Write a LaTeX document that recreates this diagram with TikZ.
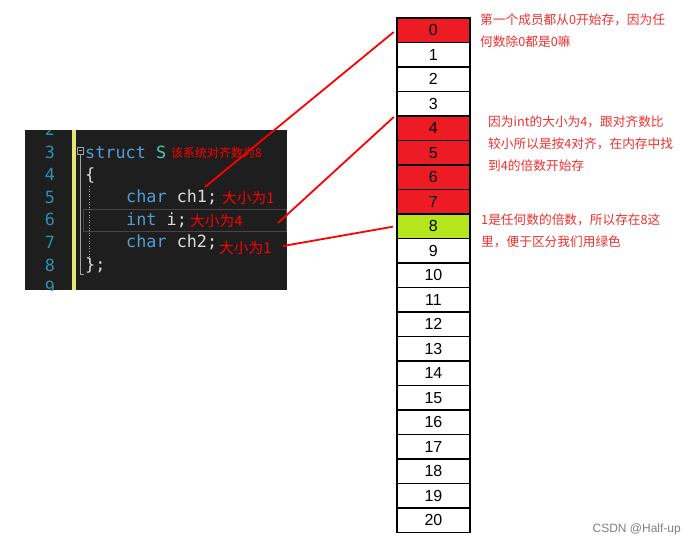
\documentclass[tikz,border=0pt]{standalone}
\usepackage{fontspec}
\setmainfont{Liberation Sans}
\newfontfamily\cjk{Noto Sans CJK SC}
\newfontfamily\codefont{DejaVu Sans Mono}
\usetikzlibrary{positioning}
\definecolor{memred}{HTML}{ED1C24}
\definecolor{memgreen}{HTML}{B5E61D}
\definecolor{notered}{HTML}{F0302F}
\definecolor{vsback}{HTML}{1E1E1E}
\definecolor{vsnum}{HTML}{2B91AF}
\definecolor{vskey}{HTML}{569CD6}
\definecolor{vstype}{HTML}{4EC9B0}
\definecolor{vstext}{HTML}{DCDCDC}
\definecolor{vsbar}{HTML}{E6E678}
\definecolor{vsline}{HTML}{464646}
\definecolor{vsfold}{HTML}{A5A5A5}
\tikzstyle{cell}=[rectangle,draw=black,line width=1.8pt,minimum width=73pt,minimum height=24.5pt,inner sep=0pt,anchor=north west,font=\fontsize{16}{16}\selectfont]
\tikzstyle{lineno}=[text=vsnum,font=\codefont\fontsize{16.8}{16.8}\selectfont,inner sep=0pt]
\tikzstyle{code}=[anchor=west,text=vstext,font=\codefont\fontsize{16.8}{16.8}\selectfont,inner sep=0pt]
\tikzstyle{sizelabel}=[anchor=west,text=red,font=\cjk\fontsize{14.7}{14.7}\selectfont,inner sep=0pt]
\tikzstyle{note}=[anchor=north west,align=left,text=notered,font=\cjk\fontsize{12.7}{22}\selectfont,inner sep=0pt]
\tikzstyle{pointer}=[draw=red,line width=1.8pt,shorten >=3pt]

\begin{document}
\begin{tikzpicture}[x=1pt,y=-1pt]

  \useasboundingbox[fill=white] (0,0) rectangle (697,547);

  \def\memx{396};
  \def\memy{17};
  \def\cellh{24.5};

  % memory cells
  \foreach \i/\col in {0/memred,1/white,2/white,3/white,4/memred,5/memred,6/memred,7/memred,8/memgreen,9/white,10/white,11/white,12/white,13/white,14/white,15/white,16/white,17/white,18/white,19/white,20/white}
    \node[cell,fill=\col] (c\i) at (\memx, \memy+\i*\cellh) {\i};

  % code window
  \node[fill=vsback,minimum width=262pt,minimum height=160pt,inner sep=0pt,anchor=north west] (panel) at (25,130) {};
  \begin{scope}
    \clip (panel.north west) rectangle (panel.south east);
    \foreach \n in {2,...,9}
      \node[lineno] (n\n) at (50, 152+\n*22.6-3*22.6) {\n};
  \end{scope}
  \fill[vsbar] (72,130) rectangle (75.5,290);
  \draw[vsline,line width=1pt] (83,209.5) rectangle (286.5,231.5);
  \draw[vsfold,line width=0.6pt] (77,147) rectangle (83,154);
  \draw[vsfold,line width=0.6pt] (78.5,150.5) -- (81.5,150.5);
  \draw[vsfold,line width=0.6pt] (80,154) -- (80,274) -- (84,274);
  \draw[vsfold,dotted,line width=0.6pt] (89,186) -- (89,262);

  \node[code] (l3) at (85,152) {\textcolor{vskey}{struct} \textcolor{vstype}{S}};
  \node[code] (l4) at (85,175) {\{};
  \node[code] (l5) at (126,197) {\textcolor{vskey}{char} ch1;};
  \node[code] (l6) at (126,220) {\textcolor{vskey}{int} i;};
  \node[code] (l7) at (126,242) {\textcolor{vskey}{char} ch2;};
  \node[code] (l8) at (85,265) {\};};

  \node[sizelabel,font=\cjk\fontsize{12}{12}\selectfont] (align8) at (171,153) {该系统对齐数为8};
  \node[sizelabel] (sz1) at (222,198) {大小为1};
  \node[sizelabel] (sz2) at (190,221) {大小为4};
  \node[sizelabel] (sz3) at (219,248) {大小为1};

  % pointers into memory
  \coordinate (p1) at (205,187);
  \coordinate (p2) at (278,223);
  \coordinate (p3) at (283,246);
  \path[pointer] (p1) -- (c0.west);
  \path[pointer] (p2) -- (c4.north west);
  \path[pointer] (p3) -- (c8.west);

  % notes
  \node[note] (note0) at (480,14) {第一个成员都从0开始存，因为任\\何数除0都是0嘛};
  \node[note] (note4) at (488,116) {因为int的大小为4，跟对齐数比\\较小所以是按4对齐，在内存中找\\到4的倍数开始存};
  \node[note] (note8) at (481,214) {1是任何数的倍数，所以存在8这\\里，便于区分我们用绿色};

  \node[text=gray,anchor=east,inner sep=0pt,font=\fontsize{12}{12}\selectfont] (mark) at (681,529) {CSDN @Half-up};

\end{tikzpicture}
\end{document}
